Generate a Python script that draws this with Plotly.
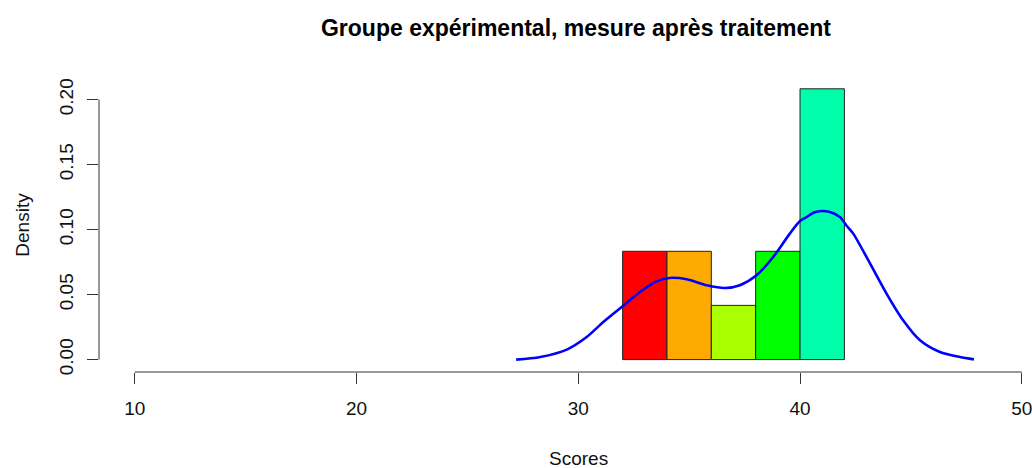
import plotly.graph_objects as go

# Histogram bins (left edges, width 2) and densities
bin_left = [32, 34, 36, 38, 40]
bin_width = 2
densities = [0.0833, 0.0833, 0.0417, 0.0833, 0.2083]
bar_colors = ["#FF0000", "#FFAA00", "#AAFF00", "#00FF00", "#00FFAA"]

# Density curve
curve_x = [27.2, 28.29, 29.48, 30.38, 31.13, 31.96, 32.78, 33.53, 34.12, 34.89,
           35.79, 36.61, 37.29, 38.04, 38.79, 39.54, 40.0, 40.3, 40.6, 40.97,
           41.35, 41.8, 42.1, 42.4, 43.16, 43.9, 44.65, 45.41, 46.31, 47.21, 47.84]
curve_y = [0.0, 0.002, 0.0077, 0.0174, 0.0289, 0.0405, 0.052, 0.0602, 0.0628, 0.0618,
           0.0572, 0.0551, 0.0572, 0.0648, 0.0789, 0.0969, 0.1066, 0.1097, 0.113, 0.1143,
           0.1135, 0.1097, 0.103, 0.0969, 0.0738, 0.0508, 0.0302, 0.0148, 0.0058, 0.002, 0.0002]

x_ticks = [10, 20, 30, 40, 50]
y_ticks = [0.0, 0.05, 0.10, 0.15, 0.20]
y_ticktext = ["0.00", "0.05", "0.10", "0.15", "0.20"]

title_text = "Groupe expérimental, mesure après traitement"
x_title = "Scores"
y_title = "Density"

FONT = "Liberation Sans, Arial, sans-serif"
AXC = "#333333"

bar_centers = [b + bin_width / 2 for b in bin_left]

fig = go.Figure()
fig.add_trace(go.Bar(
    x=bar_centers, y=densities, width=[bin_width] * len(bin_left),
    marker=dict(color=bar_colors, line=dict(color="#222222", width=1)),
    hoverinfo="skip", showlegend=False,
))
fig.add_trace(go.Scatter(
    x=curve_x, y=curve_y, mode="lines",
    line=dict(color="#0000FF", width=2.6, shape="spline", smoothing=0.8),
    hoverinfo="skip", showlegend=False,
))

fig.update_layout(
    width=1032, height=468, autosize=False,
    margin=dict(l=99, r=0, t=78, b=96, pad=0),
    paper_bgcolor="white", plot_bgcolor="white",
    bargap=0,
    font=dict(family=FONT, size=19, color="#111111"),
    title=dict(text=title_text, x=(576 - 99) / 933, xref="paper", xanchor="center",
               y=1 - 27.7 / 468, yref="container", yanchor="middle",
               font=dict(family=FONT, size=23, color="#000000", weight="bold")),
    xaxis=dict(range=[8.39, 50.46], tickmode="array", tickvals=x_ticks,
               ticks="outside", ticklen=11, tickcolor=AXC, tickwidth=1,
               showline=False, showgrid=False, zeroline=False,
               tickfont=dict(family=FONT, size=19, color="#111111"),
               ticklabelstandoff=8, ticklabeloverflow="allow"),
    yaxis=dict(range=[-0.00954, 0.2166], tickmode="array", tickvals=y_ticks,
               ticktext=y_ticktext, tickangle=-90,
               ticks="outside", ticklen=11, tickcolor=AXC, tickwidth=1,
               showline=False, showgrid=False, zeroline=False,
               tickfont=dict(family=FONT, size=19, color="#111111"),
               ticklabelstandoff=6, ticklabeloverflow="allow"),
    shapes=[
        dict(type="line", xref="x", yref="paper", x0=x_ticks[0], x1=x_ticks[-1], y0=0, y1=0,
             line=dict(color=AXC, width=1)),
        dict(type="line", xref="paper", yref="y", x0=0, x1=0, y0=y_ticks[0], y1=y_ticks[-1],
             line=dict(color=AXC, width=1)),
    ],
    annotations=[
        dict(text=x_title, xref="paper", yref="paper", x=(578 - 99) / 933, y=(372 - 458) / 294,
             xanchor="center", yanchor="middle", showarrow=False,
             font=dict(family=FONT, size=19, color="#111111")),
        dict(text=y_title, xref="paper", yref="paper", x=(21.7 - 99) / 933, y=(372 - 225) / 294,
             xanchor="center", yanchor="middle", textangle=-90, showarrow=False,
             font=dict(family=FONT, size=19, color="#111111")),
    ],
)

fig.write_html(
    "out.html",
    config={"displayModeBar": False, "staticPlot": True},
    post_script="document.body.style.margin='0';document.body.style.padding='0';"
                "document.body.style.overflow='hidden';",
)
